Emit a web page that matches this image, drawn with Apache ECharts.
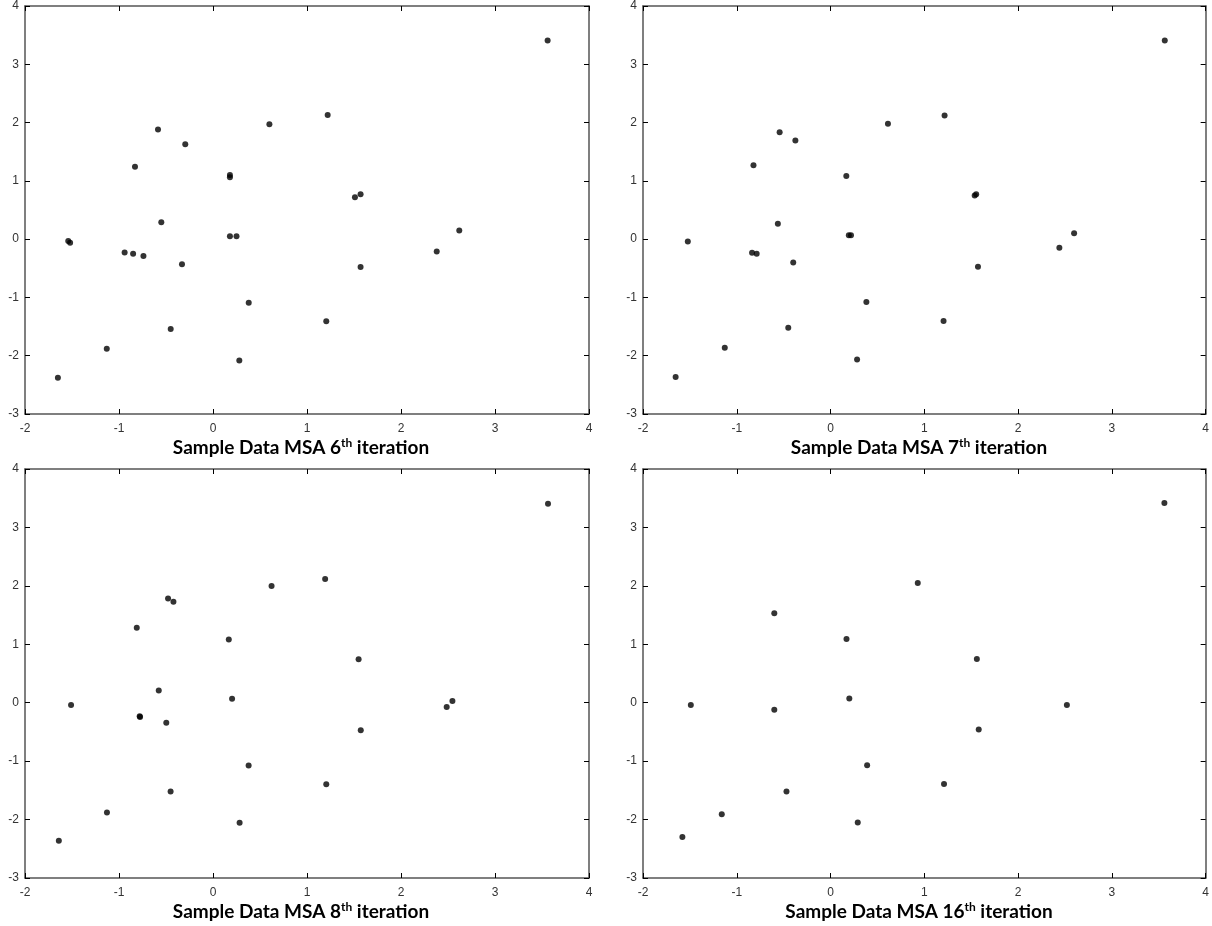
<!DOCTYPE html>
<html>
<head>
<meta charset="utf-8">
<title>Sample Data MSA iterations</title>
<script src="https://cdn.jsdelivr.net/npm/echarts@6/dist/echarts.min.js"></script>
<style>
  html, body { margin: 0; padding: 0; background: #fff; }
  #chart { width: 1212px; height: 926px; }
</style>
</head>
<body>
<div id="chart"></div>
<script>
// Axis ticks shared by every panel
const xTicks = [-2, -1, 0, 1, 2, 3, 4];
const yTicks = [-3, -2, -1, 0, 1, 2, 3, 4];

// Panel captions
const iterations = ['6', '7', '8', '16'];

// 6th iteration
const iter6X = [3.56, 1.22, 0.60, -0.585, -0.295, -0.83, 0.18, 0.18, 1.51, 1.57, -0.55, -1.54, -1.52, -0.94, -0.85, -0.74, -0.33, 0.18, 0.25, 2.62, 2.38, 1.57, 0.38, -0.45, 1.205, 0.28, -1.13, -1.65];
const iter6Y = [3.41, 2.13, 1.97, 1.88, 1.63, 1.24, 1.10, 1.06, 0.72, 0.77, 0.29, -0.03, -0.06, -0.23, -0.25, -0.29, -0.43, 0.05, 0.05, 0.15, -0.21, -0.48, -1.09, -1.54, -1.41, -2.08, -1.88, -2.38];

// 7th iteration
const iter7X = [3.564, 1.216, 0.612, -0.543, -0.375, -0.822, 0.168, 1.537, 1.553, -0.562, 0.195, 0.218, -1.522, -0.837, -0.788, -0.398, 2.597, 2.44, 1.572, 0.382, 1.205, -0.451, -1.128, 0.283, -1.652];
const iter7Y = [3.41, 2.12, 1.98, 1.836, 1.693, 1.266, 1.083, 0.747, 0.770, 0.262, 0.068, 0.068, -0.04, -0.234, -0.251, -0.399, 0.103, -0.148, -0.473, -1.078, -1.403, -1.522, -1.864, -2.064, -2.366];

// 8th iteration
const iter8X = [3.564, 1.193, 0.623, -0.478, -0.421, -0.811, 0.168, 1.549, -0.577, 0.203, -1.51, -0.776, -0.78, -0.497, 2.547, 2.486, 1.572, 0.379, 1.205, -0.451, -1.128, 0.283, -1.64];
const iter8Y = [3.405, 2.118, 1.999, 1.782, 1.726, 1.281, 1.082, 0.746, 0.211, 0.068, -0.04, -0.245, -0.23, -0.342, 0.028, -0.074, -0.473, -1.076, -1.395, -1.52, -1.879, -2.056, -2.363];

// 16th iteration
const iter16X = [3.56, 0.93, -0.60, 0.17, 1.56, -1.49, -0.60, 0.20, 2.52, 1.58, 0.39, -0.47, 1.21, -1.16, 0.29, -1.58];
const iter16Y = [3.42, 2.05, 1.53, 1.09, 0.75, -0.04, -0.12, 0.07, -0.04, -0.46, -1.07, -1.52, -1.39, -1.91, -2.05, -2.30];

const panelData = [
  [iter6X, iter6Y],
  [iter7X, iter7Y],
  [iter8X, iter8Y],
  [iter16X, iter16Y]
];

// Panel boxes in pixels: [left, top]
const PW = 564, PH = 409;
const boxes = [[25, 5], [643, 5], [25, 469], [643, 469]];
const captionY = [448, 448, 912, 912];

const chart = echarts.init(document.getElementById('chart'), null, { renderer: 'canvas' });

const grids = [], xAxes = [], yAxes = [], series = [], graphics = [];
const frameColor = '#555';
const labelStyle = { color: '#333', fontFamily: "'Liberation Sans', Arial, sans-serif", fontSize: 12 };
const captionFont = "Lato, 'Liberation Sans', sans-serif";

boxes.forEach(([left, top], i) => {
  grids.push({ left: left, top: top, width: PW, height: PH, containLabel: false });
  const xMin = xTicks[0], xMax = xTicks[xTicks.length - 1];
  const yMin = yTicks[0], yMax = yTicks[yTicks.length - 1];
  const common = {
    type: 'value', gridIndex: i, interval: 1,
    splitLine: { show: false },
    axisLine: { show: true, onZero: false, lineStyle: { color: frameColor, width: 1.5 } },
    axisTick: { show: true, inside: true, length: 5, lineStyle: { color: '#000', width: 1 } }
  };
  // bottom + top x axes
  xAxes.push(Object.assign({}, common, {
    position: 'bottom', min: xMin, max: xMax,
    axisLabel: Object.assign({ show: true, margin: 9 }, labelStyle)
  }));
  xAxes.push(Object.assign({}, common, {
    position: 'top', min: xMin, max: xMax, axisLabel: { show: false }
  }));
  // left + right y axes
  yAxes.push(Object.assign({}, common, {
    position: 'left', min: yMin, max: yMax,
    axisLabel: Object.assign({ show: true, margin: 6 }, labelStyle)
  }));
  yAxes.push(Object.assign({}, common, {
    position: 'right', min: yMin, max: yMax, axisLabel: { show: false }
  }));

  const [xs, ys] = panelData[i];
  series.push({
    type: 'scatter',
    xAxisIndex: 2 * i, yAxisIndex: 2 * i,
    data: xs.map((x, k) => [x, ys[k]]),
    symbol: 'circle', symbolSize: 6,
    itemStyle: { color: '#000' },
    silent: true, animation: false
  });

  graphics.push({
    type: 'text',
    x: left + PW / 2 - 6, y: captionY[i],
    style: {
      text: '{m|Sample Data MSA ' + iterations[i] + '}{s|th}{m| iteration}',
      align: 'center', verticalAlign: 'middle',
      rich: {
        m: { fontFamily: captionFont, fontWeight: 'bold', fontSize: 19, lineHeight: 22, fill: '#000' },
        s: { fontFamily: captionFont, fontWeight: 'bold', fontSize: 12, lineHeight: 8, fill: '#000', verticalAlign: 'top' }
      }
    }
  });
});

chart.setOption({
  animation: false,
  backgroundColor: '#fff',
  grid: grids,
  xAxis: xAxes,
  yAxis: yAxes,
  series: series,
  graphic: graphics
});
</script>
</body>
</html>
